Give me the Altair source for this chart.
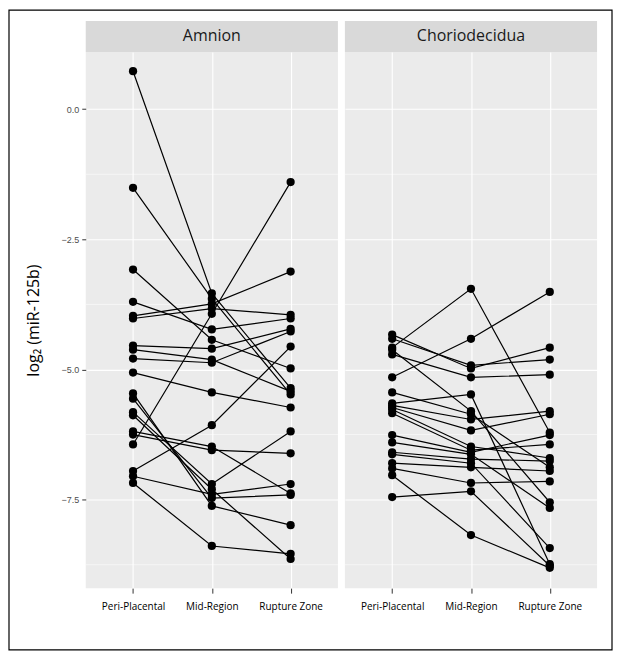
import altair as alt
import pandas as pd

regions = ["Peri-Placental", "Mid-Region", "Rupture Zone"]
tissues = ["Amnion", "Choriodecidua"]

amnion_peri = [0.73, -1.51, -3.08, -3.70, -3.97, -4.02, -4.54, -4.62, -4.79, -5.06,
               -5.46, -5.56, -6.44, -6.95, -7.18, -6.19, -6.25, -5.82, -5.88, -7.05]
amnion_mid = [-3.54, -3.64, -4.43, -4.23, -3.74, -3.83, -4.60, -4.81, -4.87, -5.44,
              -7.62, -7.47, -3.93, -6.07, -8.39, -6.48, -6.55, -7.20, -7.30, -7.40]
amnion_rupt = [-5.36, -5.48, -4.98, -4.02, -3.12, -3.95, -4.22, -5.42, -4.27, -5.73,
               -7.99, -7.41, -1.40, -4.56, -8.54, -7.38, -6.61, -6.19, -8.64, -7.20]

chorio_peri = [-4.58, -5.15, -4.33, -4.41, -4.71, -4.62, -5.44, -5.65, -5.69, -5.73,
               -5.77, -5.84, -6.26, -6.40, -6.59, -6.63, -6.80, -6.90, -7.03, -7.45]
chorio_mid = [-3.45, -4.41, -4.98, -4.92, -5.15, -5.80, -5.86, -5.48, -5.96, -6.17,
              -6.48, -6.55, -6.59, -6.63, -6.72, -6.80, -6.88, -7.18, -8.18, -7.34]
chorio_rupt = [-6.21, -3.51, -4.58, -4.81, -5.10, -7.55, -6.88, -8.74, -5.80, -5.86,
               -6.70, -6.44, -6.26, -7.66, -6.76, -8.43, -6.95, -7.15, -8.81, -8.77]

y_major = [-7.5, -5.0, -2.5, 0.0]
y_minor = [-8.75, -6.25, -3.75, -1.25]

series = {
    "Amnion": [amnion_peri, amnion_mid, amnion_rupt],
    "Choriodecidua": [chorio_peri, chorio_mid, chorio_rupt],
}

rows = []
for t in tissues:
    cols = series[t]
    for i in range(len(cols[0])):
        for j, r in enumerate(regions):
            rows.append({"tissue": t, "subject": f"{t}-{i}", "region": r,
                         "step": j, "value": cols[j][i]})
df = pd.DataFrame(rows)
minor_df = pd.DataFrame({"value": y_minor})

W, H = 253, 538
STRIP = 31
yscale = alt.Scale(domain=[-9.2, 1.1], nice=False, zero=False)
xscale = alt.Scale(type="point", padding=0.6, domain=regions)


def panel(tissue, first):
    d = df[df.tissue == tissue]
    if first:
        yaxis = alt.Axis(values=y_major, format=".1f", grid=True, gridColor="white",
                         gridWidth=1.1, domain=False, tickColor="#333333", tickSize=4,
                         labelColor="#4D4D4D", labelFontSize=9, labelFont="Liberation Sans",
                         labelPadding=3, title="log\u2082 (miR-125b)", titleFontSize=16,
                         titleFontWeight="normal", titleColor="black", titleFont="Open Sans",
                         titlePadding=20)
    else:
        yaxis = alt.Axis(values=y_major, grid=True, gridColor="white", gridWidth=1.1,
                         domain=False, ticks=False, labels=False, title=None)
    yenc = alt.Y("value:Q", scale=yscale, axis=yaxis)
    xenc = alt.X("region:N", sort=regions, scale=xscale,
                 axis=alt.Axis(title=None, grid=True, gridColor="white", gridWidth=1.1,
                               domain=False, tickColor="#333333", tickSize=5,
                               labelColor="black", labelFontSize=10, labelFont="Open Sans",
                               labelAngle=0, labelPadding=8))

    base = alt.Chart(d)
    minor = alt.Chart(minor_df).mark_rule(color="white", strokeWidth=0.55).encode(y=yenc)
    lines = base.mark_line(color="black", strokeWidth=1.2).encode(
        x=xenc, y=yenc, detail="subject:N", order=alt.Order("step:Q"))
    pts = base.mark_circle(color="black", size=68, opacity=1).encode(x=xenc, y=yenc)

    strip_df = pd.DataFrame({"tissue": [tissue]})
    strip_bg = alt.Chart(strip_df).mark_rect(color="#D9D9D9").encode(
        x=alt.value(0), x2=alt.value(W), y=alt.value(-STRIP), y2=alt.value(0))
    strip_txt = alt.Chart(strip_df).mark_text(
        fontSize=16, font="Open Sans", color="#1A1A1A", baseline="middle", align="center"
    ).encode(x=alt.value(W / 2), y=alt.value(-STRIP / 2), text="tissue:N")

    layers = [minor, lines, pts, strip_bg, strip_txt]
    if first:
        frame = alt.Chart(strip_df).mark_rect(fillOpacity=0, stroke="black", strokeWidth=1.2).encode(
            x=alt.value(-77), x2=alt.value(528), y=alt.value(-42), y2=alt.value(600))
        layers = [frame] + layers
    return alt.layer(*layers).properties(width=W, height=H)


chart = alt.hconcat(panel("Amnion", True), panel("Choriodecidua", False),
                    spacing=7, bounds="flush").configure_view(
    fill="#EBEBEB", strokeWidth=0).properties(padding=0, background="white")

chart.save("out.html", embed_options={"renderer": "svg", "actions": False})
